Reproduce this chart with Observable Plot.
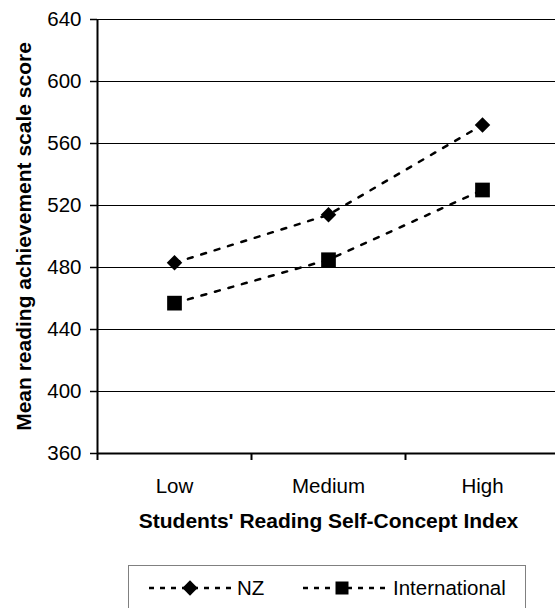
<!DOCTYPE html>
<html>
<head>
<meta charset="utf-8">
<script src="https://cdn.jsdelivr.net/npm/d3@7"></script>
<script src="https://cdn.jsdelivr.net/npm/@observablehq/plot@0.6"></script>
<style>
  html, body { margin: 0; padding: 0; background: #fff; overflow: hidden; }
  #wrap { position: relative; width: 555px; height: 608px; overflow: hidden; font-family: Arial, "Liberation Sans", sans-serif; }
  #chart { width: 560px; }
  #chart svg { max-width: none !important; }
  #legend { position: absolute; left: 128px; top: 565px; width: 398px; height: 60px; border: 1px solid #808080; box-sizing: border-box; }
</style>
</head>
<body>
<div id="wrap">
  <div id="chart"></div>
  <div id="legend"></div>
</div>
<script>
// ---- data ----
const categories = ["Low", "Medium", "High"];
const nzScores = [483, 514, 572];
const intlScores = [457, 485, 530];
const seriesNames = ["NZ", "International"];
const yTicks = [360, 400, 440, 480, 520, 560, 600, 640];
const xTitle = "Students' Reading Self-Concept Index";
const yTitle = "Mean reading achievement scale score";

// ---- table ----
const rows = [];
categories.forEach((c, i) => {
  rows.push({series: "NZ", cat: c, value: nzScores[i]});
  rows.push({series: "International", cat: c, value: intlScores[i]});
});
const nzRows = rows.filter(d => d.series === "NZ");
const intlRows = rows.filter(d => d.series === "International");

const W = 560, H = 545, mL = 97, mR = 1, mT = 19, mB = 92;
const bw = (W - mL - mR) / categories.length;
const dash = "5,9";

const chart = Plot.plot({
  width: W,
  height: H,
  marginLeft: mL,
  marginRight: mR,
  marginTop: mT,
  marginBottom: mB,
  style: {fontFamily: "Arial, 'Liberation Sans', sans-serif", fontSize: "20.5px", color: "#000", background: "#fff", overflow: "visible", maxWidth: "none"},
  x: {type: "band", domain: categories, padding: 0},
  y: {domain: [360, 640]},
  marks: [
    Plot.gridY(yTicks.filter(t => t > 360), {stroke: "#000", strokeOpacity: 1, strokeWidth: 1}),
    Plot.axisY({ticks: yTicks, tickSize: 7, tickPadding: 9, label: null, strokeWidth: 1.5}),
    Plot.axisX({tickSize: 0, tickPadding: 25, label: null}),
    Plot.axisX({tickSize: 7, tickFormat: () => "", dx: -bw / 2, label: null, strokeWidth: 2}),
    Plot.ruleX([categories[0]], {dx: -bw / 2, stroke: "#000", strokeWidth: 2}),
    Plot.ruleY([360], {stroke: "#000", strokeWidth: 2}),
    Plot.line(nzRows, {x: "cat", y: "value", stroke: "#000", strokeWidth: 2.5, strokeDasharray: dash}),
    Plot.line(intlRows, {x: "cat", y: "value", stroke: "#000", strokeWidth: 2.5, strokeDasharray: dash}),
    Plot.dot(nzRows, {x: "cat", y: "value", symbol: "diamond2", r: 7, fill: "#000", stroke: "none"}),
    Plot.dot(intlRows, {x: "cat", y: "value", symbol: "square", r: 8.3, fill: "#000", stroke: "none"}),
    Plot.text([yTitle], {text: d => d, frameAnchor: "left", dx: -73, rotate: -90, fontWeight: "bold", fontSize: 21, textAnchor: "middle", lineAnchor: "middle"}),
    Plot.text([xTitle], {text: d => d, frameAnchor: "bottom", dy: 68, fontWeight: "bold", fontSize: 21, textAnchor: "middle", lineAnchor: "middle"})
  ]
});
chart.style.maxWidth = "none";
document.getElementById("chart").appendChild(chart);

// ---- legend ----
const lg = d3.select("#legend").append("svg")
  .attr("width", 398).attr("height", 60)
  .style("font-family", "Arial, 'Liberation Sans', sans-serif")
  .style("font-size", "20.5px");
const items = [
  {name: seriesNames[0], x0: 20, x1: 105, mx: 61, sym: d3.symbolDiamond2, size: 150, tx: 108},
  {name: seriesNames[1], x0: 174, x1: 261, mx: 213, sym: d3.symbolSquare, size: 13 * 13, tx: 264}
];
const cy = 22;
items.forEach(it => {
  lg.append("line").attr("x1", it.x0).attr("x2", it.x1).attr("y1", cy).attr("y2", cy)
    .attr("stroke", "#000").attr("stroke-width", 2.5).attr("stroke-dasharray", "5,6");
  lg.append("path").attr("d", d3.symbol(it.sym, it.size)()).attr("transform", `translate(${it.mx},${cy})`).attr("fill", "#000");
  lg.append("text").attr("x", it.tx).attr("y", cy).attr("dy", "0.35em").text(it.name);
});
</script>
</body>
</html>
